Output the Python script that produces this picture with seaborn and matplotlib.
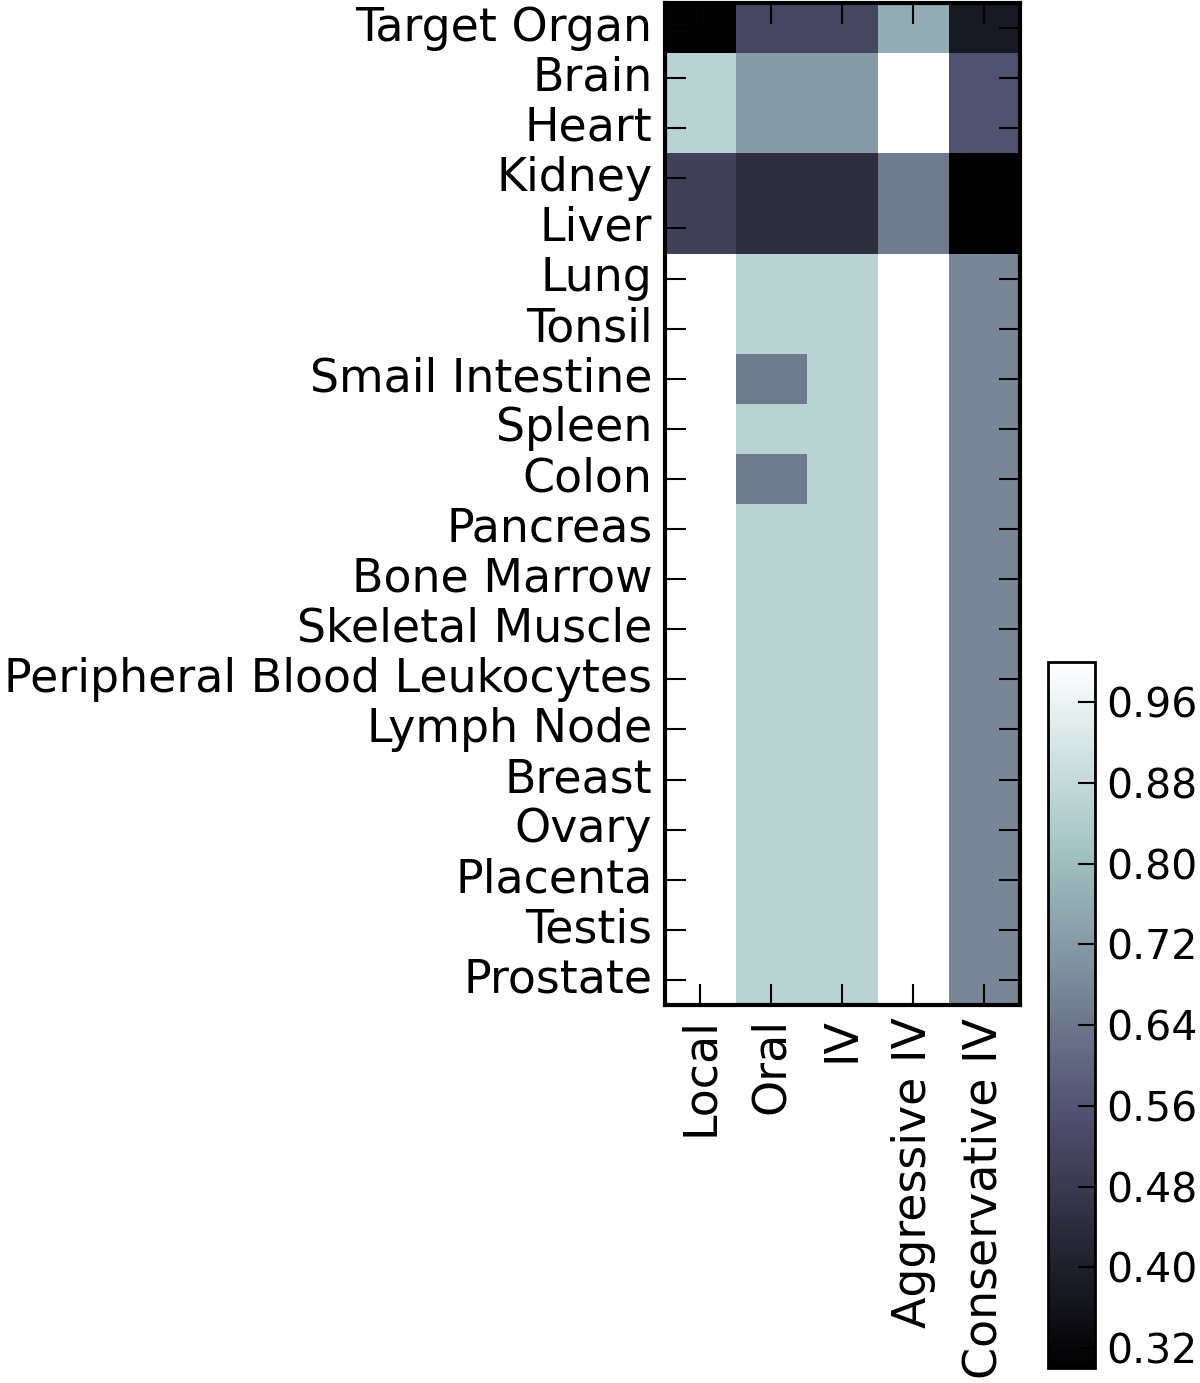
import numpy as np
import pandas as pd
import seaborn as sns
import matplotlib
matplotlib.use("Agg")
import matplotlib.pyplot as plt

organs = ["Target Organ", "Brain", "Heart", "Kidney", "Liver", "Lung", "Tonsil",
          "Smail Intestine", "Spleen", "Colon", "Pancreas", "Bone Marrow",
          "Skeletal Muscle", "Peripheral Blood Leukocytes", "Lymph Node",
          "Breast", "Ovary", "Placenta", "Testis", "Prostate"]
methods = ["Local", "Oral", "IV", "Aggressive IV", "Conservative IV"]

local = [0.31, 0.86, 0.86, 0.50, 0.50] + [1.0] * 15
oral = [0.52, 0.72, 0.72, 0.44, 0.44, 0.86, 0.86, 0.65, 0.86, 0.65,
        0.86, 0.86, 0.86, 0.86, 0.86, 0.86, 0.86, 0.86, 0.86, 0.86]
iv = [0.52, 0.72, 0.72, 0.44, 0.44] + [0.86] * 15
aggressive = [0.76, 1.0, 1.0, 0.65, 0.65] + [1.0] * 15
conservative = [0.38, 0.55, 0.55, 0.30, 0.30] + [0.675] * 15

df = pd.DataFrame({"Local": local, "Oral": oral, "IV": iv,
                   "Aggressive IV": aggressive, "Conservative IV": conservative},
                  index=organs)

fig = plt.figure(figsize=(12, 13.83), dpi=100)
ax = fig.add_axes([0.554, 0.2733, 0.296, 0.7245])
cax = fig.add_axes([0.8733, 0.0108, 0.039, 0.5105])

sns.heatmap(df, ax=ax, cbar_ax=cax, cmap="bone", vmin=0.30, vmax=1.0)

for s in ax.spines.values():
    s.set_visible(True)
    s.set_linewidth(3)
    s.set_color("black")

ax.set_xticks(np.arange(len(methods)) + 0.5)
ax.set_xticklabels(methods, rotation=90, fontsize=33)
ax.set_yticks(np.arange(len(organs)) + 0.5)
ax.set_yticklabels(organs, rotation=0, fontsize=33)
ax.tick_params(direction="in", length=15, width=1.5, top=True, right=True,
               left=True, bottom=True, pad=9)

cb = ax.collections[0].colorbar
cb.set_ticks([0.32, 0.40, 0.48, 0.56, 0.64, 0.72, 0.80, 0.88, 0.96])
cb.ax.tick_params(direction="in", length=12, width=1.5, labelsize=29.5, pad=8)
cb.outline.set_visible(True)
cb.outline.set_linewidth(2)
cb.outline.set_edgecolor("black")

fig.savefig("out.png", dpi=100)
